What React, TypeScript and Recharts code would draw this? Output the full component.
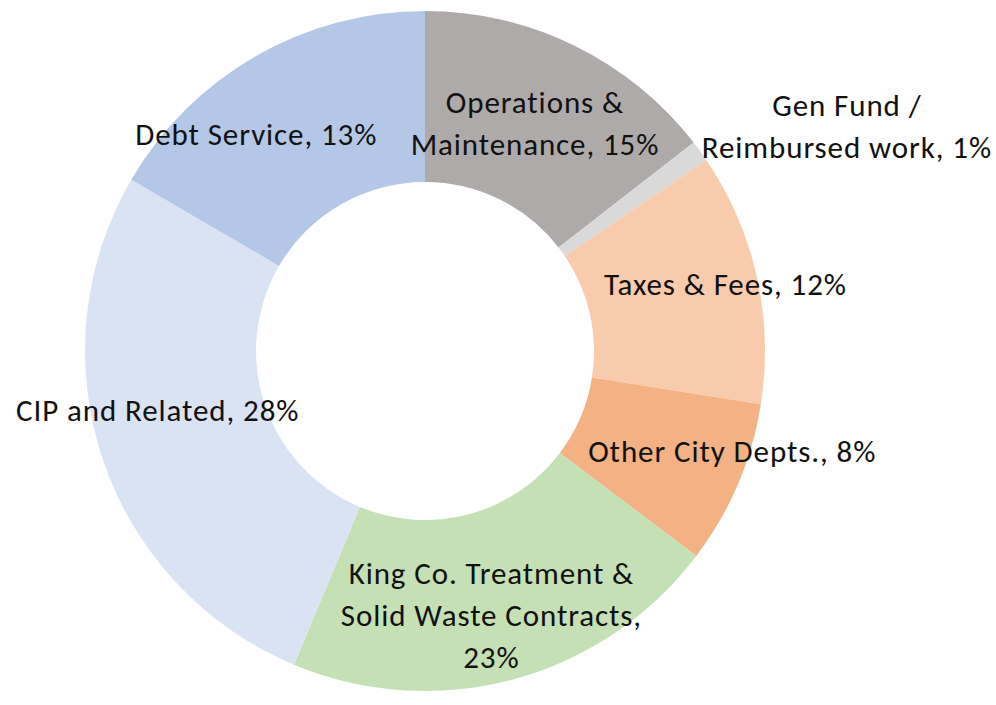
import React from 'react';
import { Cell, Pie, PieChart } from 'recharts';

// slice names, clockwise from 12 o'clock
const CATEGORIES = [
  'Operations & Maintenance',
  'Gen Fund / Reimbursed work',
  'Taxes & Fees',
  'Other City Depts.',
  'King Co. Treatment & Solid Waste Contracts',
  'CIP and Related',
  'Debt Service',
];

// share of the ring as drawn
const SHARES = [14.5, 1.0, 12.0, 7.8, 21.0, 27.1, 16.6];

// percentages as printed on the labels
const LABEL_PCTS = ['15%', '1%', '12%', '8%', '23%', '28%', '13%'];

// how each label breaks across lines
const LABEL_LINES = [
  ['Operations &', 'Maintenance, {p}'],
  ['Gen Fund /', 'Reimbursed work, {p}'],
  ['Taxes & Fees, {p}'],
  ['Other City Depts., {p}'],
  ['King Co. Treatment &', 'Solid Waste Contracts,', '{p}'],
  ['CIP and Related, {p}'],
  ['Debt Service, {p}'],
];

const COLORS = ['#AEAAAA', '#D9D9D9', '#F8CBAD', '#F4B183', '#C5E0B4', '#DAE3F3', '#B4C7E7'];

// nudges away from the mid-ring spot, like Excel's best-fit placement
const LABEL_NUDGE: [number, number][] = [
  [-2, 1],
  [216, -75],
  [52, -11],
  [73, 0],
  [0, 18],
  [-26, -22],
  [-42, 4],
];

const FONT = 'Carlito, Calibri, Lato, sans-serif';
const LINE_H = 42;
const RAD = Math.PI / 180;

const chartData = CATEGORIES.map((name, i) => ({ name, value: SHARES[i], index: i }));

const renderLabel = (props: any) => {
  const { cx, cy, midAngle, innerRadius, outerRadius, index } = props;
  const r = (innerRadius + outerRadius) / 2;
  const [dx, dy] = LABEL_NUDGE[index];
  const x = cx + r * Math.cos(-midAngle * RAD) + dx;
  const y = cy + r * Math.sin(-midAngle * RAD) + dy;
  const lines = LABEL_LINES[index].map(l => l.replace('{p}', LABEL_PCTS[index]));
  const top = y - ((lines.length - 1) * LINE_H) / 2;
  return (
    <text
      key={`lbl-${index}`}
      x={x}
      y={top}
      textAnchor="middle"
      dominantBaseline="central"
      fill="#111"
      fontFamily={FONT}
      fontSize={31}
      letterSpacing={0.9}
    >
      {lines.map((line, i) => (
        <tspan key={i} x={x} dy={i === 0 ? 0 : LINE_H}>
          {line}
        </tspan>
      ))}
    </text>
  );
};

export default function App() {
  return (
    <div style={{ position: 'absolute', left: 0, top: 0, width: 996, height: 705, background: '#fff' }}>
      <PieChart width={996} height={705} margin={{ top: 0, right: 0, bottom: 0, left: 0 }}>
        <Pie
          data={chartData}
          dataKey="value"
          nameKey="name"
          cx={425}
          cy={351}
          innerRadius={169}
          outerRadius={340}
          startAngle={90}
          endAngle={-270}
          stroke="none"
          label={renderLabel}
          labelLine={false}
          isAnimationActive={false}
        >
          {chartData.map((d, i) => (
            <Cell key={d.name} fill={COLORS[i]} />
          ))}
        </Pie>
      </PieChart>
    </div>
  );
}
